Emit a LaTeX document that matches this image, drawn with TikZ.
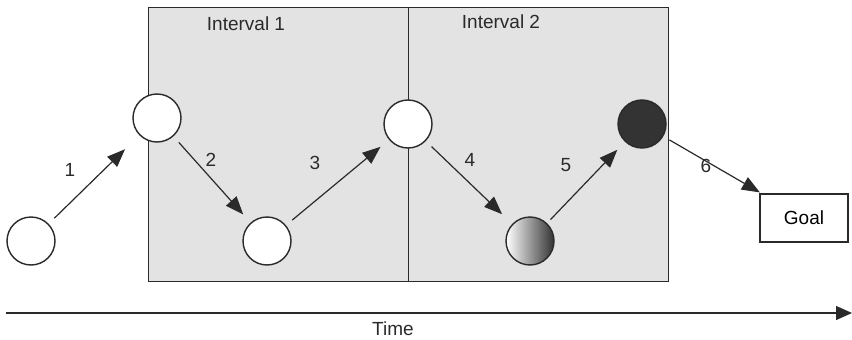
\documentclass[tikz,border=0pt]{standalone}
\usepackage{fontspec}
\setmainfont{Liberation Sans}
\usetikzlibrary{arrows.meta}
\definecolor{panel}{HTML}{E3E3E3}
\definecolor{darkfill}{HTML}{333333}
\definecolor{linec}{HTML}{2A2A2A}
\begin{document}
\begin{tikzpicture}[x=1pt,y=-1pt,
  state/.style={circle,draw=linec,line width=1.4pt,minimum size=48pt,inner sep=0pt,fill=white},
  conn/.style={draw=linec,line width=1.2pt,-{Triangle[length=18pt,width=14pt]},shorten <=8pt,shorten >=11pt},
  lbl/.style={font=\fontsize{19}{21}\selectfont,text=linec},
  font=\fontsize{19}{21}\selectfont]
\useasboundingbox (0,0) rectangle (852,340);
\node[draw=linec,line width=1.2pt,fill=panel,minimum width=260pt,minimum height=274pt,inner sep=0pt,anchor=north west] (iv1) at (148,7) {};
\node[draw=linec,line width=1.2pt,fill=panel,minimum width=260pt,minimum height=274pt,inner sep=0pt,anchor=north west] (iv2) at (408,7) {};
\node[lbl] (t1) at (246,24) {Interval 1};
\node[lbl] (t2) at (501,22) {Interval 2};
\node[state] (c0) at (31,241) {};
\node[state] (c1) at (157,118) {};
\node[state] (c2) at (267,241) {};
\node[state] (c3) at (408,124) {};
\node[state,left color=white,right color=black!80,shading angle=90] (c4) at (530,241) {};
\node[state,fill=darkfill] (c5) at (642,124) {};
\node[draw=linec,line width=1.2pt,fill=white,minimum width=88pt,minimum height=48pt,inner sep=0pt] (goal) at (804,218) {Goal};
\draw[conn,shorten >=20pt] (c0) -- (c1);
\draw[conn] (c1) -- (c2);
\draw[conn] (c2) -- (c3);
\draw[conn,shorten >=14pt] (c3) -- (c4);
\draw[conn,shorten <=5pt] (c4) -- (c5);
\draw[conn,shorten <=7pt,shorten >=2pt] (c5) -- (goal);
\node[lbl] (n1) at (70,170) {1};
\node[lbl] (n2) at (211,160) {2};
\node[lbl] (n3) at (315,163) {3};
\node[lbl] (n4) at (470,160) {4};
\node[lbl] (n5) at (566,165) {5};
\node[lbl] (n6) at (706,166) {6};
\coordinate (ts) at (6,313);
\coordinate (te) at (852,313);
\draw[draw=linec,line width=1.3pt,-{Triangle[length=16pt,width=14pt]}] (ts) -- (te);
\node[lbl] (time) at (393,329) {Time};
\end{tikzpicture}
\end{document}
